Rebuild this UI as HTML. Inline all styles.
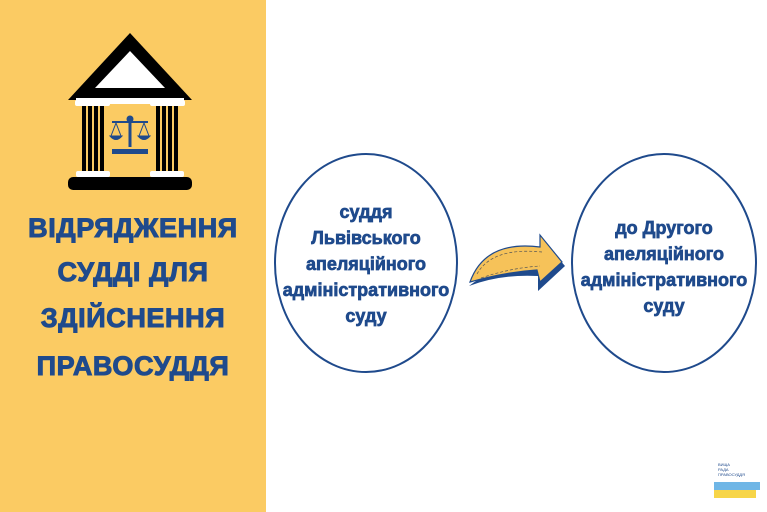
<!DOCTYPE html>
<html><head><meta charset="utf-8"><style>
html,body{margin:0;padding:0}
body{width:767px;height:512px;position:relative;background:#fff;overflow:hidden;font-family:"Liberation Sans",sans-serif}
.panel{position:absolute;left:0;top:0;width:266px;height:512px;background:#fbcb63}
.t{position:absolute;left:0;width:266px;text-align:center;color:#1f4a8c;font-weight:bold;font-size:27px;line-height:30px;letter-spacing:0.6px;-webkit-text-stroke:1px #1f4a8c}
.c{position:absolute;text-align:center;color:#1f4a8c;font-weight:bold;font-size:18px;line-height:26px;-webkit-text-stroke:0.7px #1f4a8c}
</style></head><body>
<div class="panel"></div>
<svg style="position:absolute;left:0;top:0" width="767" height="512">
  <polygon points="130,33 68,100 192,100" fill="#000"/>
  <polygon points="130,51 95,88 165,88" fill="#fff"/>
  <rect x="76" y="98" width="108" height="6" fill="#fff"/>
  <rect x="75" y="100" width="35" height="6" rx="2" fill="#fff"/>
  <rect x="150" y="100" width="35" height="6" rx="2" fill="#fff"/>
  <g fill="#000">
    <rect x="82" y="106" width="4" height="66"/><rect x="88" y="106" width="4" height="66"/><rect x="94" y="106" width="4" height="66"/><rect x="100" y="106" width="4" height="66"/>
    <rect x="156" y="106" width="4" height="66"/><rect x="162" y="106" width="4" height="66"/><rect x="168" y="106" width="4" height="66"/><rect x="174" y="106" width="4" height="66"/>
  </g>
  <rect x="76" y="171" width="34" height="6" rx="2" fill="#fff"/>
  <rect x="150" y="171" width="34" height="6" rx="2" fill="#fff"/>
  <rect x="68" y="177" width="124" height="13" rx="5" fill="#000"/>
  <g fill="#1f4a8c" stroke="#1f4a8c">
    <circle cx="130" cy="119" r="3"/>
    <rect x="128.5" y="119" width="3" height="28" stroke="none"/>
    <rect x="112" y="121" width="36" height="2" stroke="none"/>
    <line x1="116" y1="123" x2="111" y2="136" stroke-width="1"/>
    <line x1="116" y1="123" x2="121" y2="136" stroke-width="1"/>
    <line x1="144" y1="123" x2="139" y2="136" stroke-width="1"/>
    <line x1="144" y1="123" x2="149" y2="136" stroke-width="1"/>
    <path d="M110,136 L122,136 Q116,143 110,136Z"/>
    <path d="M138,136 L150,136 Q144,143 138,136Z"/>
    <rect x="112" y="149" width="36" height="5" stroke="none"/>
  </g>
  <ellipse cx="366" cy="263" rx="91" ry="109" fill="none" stroke="#1f4a8c" stroke-width="2"/>
  <ellipse cx="664" cy="263" rx="92" ry="109" fill="none" stroke="#1f4a8c" stroke-width="2"/>
  <!-- arrow -->
  <path d="M469,286 Q500,274 538,276 L538,291 L565,266 L546,244 L544,258 Q500,262 469,286Z" fill="#1f4a8c"/>
  <path d="M470,282 Q485,240 540,247 L540,235 L562,262 L540,282 L537,270 Q505,272 470,282Z" fill="#f6c259" stroke="#1f4a8c" stroke-width="1.2"/>
  <path d="M477,274 Q492,247 542,252 M481,278 Q510,268 540,266" fill="none" stroke="#555" stroke-width="0.7" stroke-dasharray="3,2"/>
  <!-- logo -->
  <rect x="714" y="482" width="46" height="8" fill="#6fb6e6"/>
  <rect x="714" y="490" width="42" height="8" fill="#f7d548"/>
  <text x="718" y="466" font-size="4" fill="#1f4a8c" font-family="Liberation Sans">ВИЩА</text>
  <text x="718" y="471" font-size="4" fill="#1f4a8c" font-family="Liberation Sans">РАДА</text>
  <text x="718" y="476" font-size="4" fill="#1f4a8c" font-family="Liberation Sans">ПРАВОСУДДЯ</text>
</svg>
<div class="t" style="top:213px">ВІДРЯДЖЕННЯ</div>
<div class="t" style="top:257px">СУДДІ ДЛЯ</div>
<div class="t" style="top:303px">ЗДІЙСНЕННЯ</div>
<div class="t" style="top:351px">ПРАВОСУДДЯ</div>
<div class="c" style="left:266px;width:200px;top:199px">суддя<br>Львівського<br>апеляційного<br>адміністративного<br>суду</div>
<div class="c" style="left:564px;width:200px;top:215px">до Другого<br>апеляційного<br>адміністративного<br>суду</div>
</body></html>
